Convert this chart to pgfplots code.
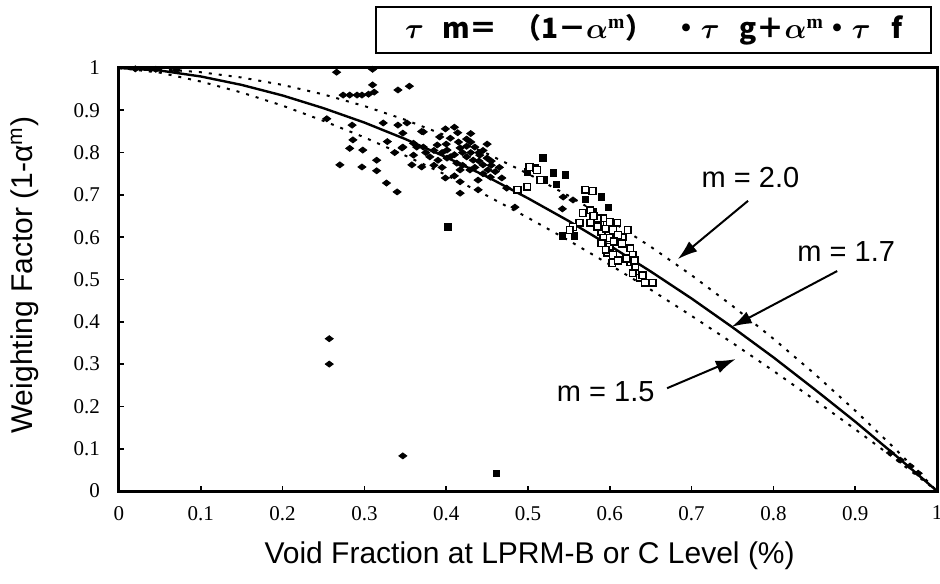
\documentclass[border=0pt]{standalone}
\usepackage{amsmath}
\usepackage{pgfplots}
\pgfplotsset{compat=1.18}
\usepackage{fontspec}
\setmainfont{Liberation Serif}
\newfontfamily\sans{Liberation Sans}
\newfontfamily\cjk{Noto Sans CJK JP}
\usetikzlibrary{arrows.meta}
\newcommand\formula{\mbox{$\boldsymbol{\tau}$\hspace{0.65em}m＝\hspace{0.55em}（1－$\boldsymbol{\alpha}^{\mathbf{m}}$）\hspace{0.7em}・$\boldsymbol{\tau}$\hspace{0.7em}g＋$\boldsymbol{\alpha}^{\mathbf{m}}$・$\boldsymbol{\tau}$\hspace{0.75em}f}}
\begin{document}
\begin{tikzpicture}
\begin{axis}[
  scale only axis, width=409pt, height=211.5pt,
  xmin=0, xmax=1, ymin=0, ymax=1,
  xtick={0,0.1,0.2,0.3,0.4,0.5,0.6,0.7,0.8,0.9,1},
  ytick={0,0.1,0.2,0.3,0.4,0.5,0.6,0.7,0.8,0.9,1},
  /pgf/number format/assume math mode=true,
  tick label style={font=\fontsize{10.5}{12}\selectfont},
  xticklabel style={yshift=-4pt},
  yticklabel style={xshift=-6pt},
  tick pos=left, tick align=inside, major tick length=2.5pt,
  tick style={line width=0.8pt, black},
  axis line style={line width=1.5pt},
  clip=false,
  every axis x label/.style={at={(axis description cs:0.502,-0.154)}, anchor=center},
  every axis y label/.style={at={(axis description cs:-0.115,0.51)}, anchor=center, rotate=90},
  label style={font=\sans\fontsize{15}{17}\selectfont},
  xlabel={Void Fraction at LPRM-B or C Level (\%)},
  ylabel={Weighting Factor (1-α\textsuperscript{m})},
]
% m = 2.0
\addplot[black, line width=1pt, dash pattern=on 1.5pt off 3.5pt] coordinates {
(0,1) (0.05,0.9975) (0.1,0.99) (0.15,0.9775) (0.2,0.96) (0.25,0.9375) (0.3,0.91)
(0.35,0.8775) (0.4,0.84) (0.45,0.7975) (0.5,0.75) (0.55,0.6975) (0.6,0.64)
(0.65,0.5775) (0.7,0.51) (0.75,0.4375) (0.8,0.36) (0.85,0.2775) (0.9,0.19)
(0.95,0.0975) (1,0)};
% m = 1.5
\addplot[black, line width=1pt, dash pattern=on 1.5pt off 3.5pt] coordinates {
(0,1) (0.05,0.989) (0.1,0.968) (0.15,0.942) (0.2,0.911) (0.25,0.875) (0.3,0.836)
(0.35,0.793) (0.4,0.747) (0.45,0.698) (0.5,0.646) (0.55,0.592) (0.6,0.535)
(0.65,0.476) (0.7,0.414) (0.75,0.350) (0.8,0.284) (0.85,0.216) (0.9,0.146)
(0.95,0.074) (1,0)};
% m = 1.7
\addplot[black, line width=1.2pt] coordinates {
(0,1) (0.05,0.994) (0.1,0.980) (0.15,0.960) (0.2,0.935) (0.25,0.905) (0.3,0.871)
(0.35,0.832) (0.4,0.789) (0.45,0.743) (0.5,0.692) (0.55,0.638) (0.6,0.580)
(0.65,0.519) (0.7,0.455) (0.75,0.387) (0.8,0.316) (0.85,0.241) (0.9,0.164)
(0.95,0.083) (1,0)};
% filled diamonds
\addplot[only marks, mark=diamond*, mark size=2pt, mark options={rotate=90, fill=black, draw=black}] coordinates {
(0.02,0.998) (0.045,0.997) (0.07,0.995)
(0.257,0.36) (0.257,0.30) (0.347,0.083)
(0.266,0.990) (0.310,0.997) (0.274,0.936) (0.282,0.936) (0.291,0.936) (0.297,0.936)
(0.305,0.938) (0.310,0.960) (0.312,0.943) (0.341,0.948) (0.355,0.957)
(0.254,0.880) (0.285,0.865) (0.323,0.870) (0.341,0.865) (0.352,0.870) (0.370,0.850)
(0.347,0.846) (0.286,0.830) (0.328,0.826) (0.282,0.810) (0.298,0.806) (0.347,0.813)
(0.364,0.813) (0.360,0.794) (0.337,0.800) (0.270,0.771) (0.297,0.766) (0.315,0.782)
(0.315,0.757) (0.327,0.728) (0.340,0.707)
(0.372,0.849) (0.399,0.856) (0.414,0.847) (0.425,0.832) (0.392,0.837) (0.405,0.834)
(0.346,0.811) (0.360,0.822) (0.372,0.813) (0.389,0.818) (0.401,0.806) (0.417,0.811)
(0.435,0.813) (0.441,0.794) (0.450,0.787) (0.445,0.771) (0.451,0.759) (0.433,0.782)
(0.425,0.790) (0.413,0.775) (0.401,0.787) (0.390,0.782) (0.417,0.759) (0.429,0.759)
(0.358,0.771) (0.370,0.766) (0.399,0.740) (0.417,0.731) (0.417,0.704) (0.439,0.735)
(0.439,0.712) (0.454,0.742) (0.468,0.740) (0.474,0.716) (0.484,0.671)
(0.395,0.800) (0.410,0.795) (0.420,0.800) (0.430,0.800) (0.440,0.780) (0.380,0.790)
(0.375,0.800) (0.385,0.770) (0.420,0.770) (0.435,0.765) (0.445,0.750) (0.455,0.770)
(0.460,0.755) (0.400,0.820) (0.415,0.825) (0.430,0.825) (0.440,0.800) (0.395,0.765)
(0.410,0.745) (0.410,0.860) (0.430,0.845) (0.450,0.820)
(0.405,0.790) (0.425,0.815) (0.445,0.805) (0.455,0.780) (0.465,0.765) (0.385,0.805)
(0.543,0.695) (0.542,0.667) (0.555,0.688)
(0.943,0.090) (0.955,0.073) (0.967,0.059) (0.977,0.042)
};
% filled squares
\addplot[only marks, mark=square*, mark size=1.6pt, mark options={fill=black, draw=black}] coordinates {
(0.461,0.042) (0.402,0.624) (0.518,0.787) (0.546,0.747) (0.531,0.752) (0.499,0.754)
(0.509,0.764) (0.590,0.695) (0.598,0.671) (0.542,0.603) (0.557,0.603)
(0.535,0.725) (0.570,0.690) (0.580,0.660) (0.520,0.735)
};
% open squares
\addplot[only marks, mark=square*, mark size=1.7pt, mark options={fill=white, draw=black, line width=0.8pt}] coordinates {
(0.502,0.766) (0.511,0.759) (0.515,0.735) (0.487,0.712) (0.499,0.719) (0.570,0.712)
(0.579,0.709) (0.576,0.664) (0.567,0.657) (0.563,0.634) (0.576,0.634) (0.588,0.634)
(0.600,0.636) (0.609,0.634) (0.592,0.645) (0.555,0.624) (0.551,0.617) (0.590,0.612)
(0.604,0.617) (0.622,0.617) (0.592,0.598) (0.600,0.598) (0.616,0.600) (0.590,0.586)
(0.600,0.577) (0.597,0.563) (0.604,0.558) (0.603,0.539) (0.625,0.574) (0.628,0.558)
(0.625,0.541) (0.631,0.530) (0.628,0.515) (0.637,0.504) (0.643,0.492) (0.652,0.492)
(0.585,0.625) (0.595,0.620) (0.610,0.605) (0.605,0.590) (0.595,0.570) (0.615,0.585)
(0.620,0.550) (0.610,0.545) (0.630,0.545) (0.640,0.510) (0.585,0.645) (0.580,0.650)
};
\coordinate (L20) at (axis cs:0.772,0.742);
\coordinate (L17) at (axis cs:0.889,0.565);
\coordinate (L15) at (axis cs:0.595,0.234);
\coordinate (A1s) at (axis cs:0.769,0.686);
\coordinate (A1e) at (axis cs:0.683,0.548);
\coordinate (A2s) at (axis cs:0.878,0.520);
\coordinate (A2e) at (axis cs:0.749,0.388);
\coordinate (A3s) at (axis cs:0.670,0.243);
\coordinate (A3e) at (axis cs:0.754,0.312);
\coordinate (TB) at (axis cs:0.654,1.090);
\end{axis}
\node[font=\sans\fontsize{14.5}{16}\selectfont] at (L20) {m = 2.0};
\node[font=\sans\fontsize{14.5}{16}\selectfont] at (L17) {m = 1.7};
\node[font=\sans\fontsize{14.5}{16}\selectfont] at (L15) {m = 1.5};
\draw[line width=1pt, -{Latex[length=10pt,width=6.5pt]}] (A1s) -- (A1e);
\draw[line width=1pt, -{Latex[length=10pt,width=6.5pt]}] (A2s) -- (A2e);
\draw[line width=1pt, -{Latex[length=10pt,width=6.5pt]}] (A3s) -- (A3e);
\node[draw, line width=1pt, minimum width=277.5pt, minimum height=23pt, inner sep=0pt, font=\cjk\bfseries\fontsize{14}{16}\selectfont] at (TB) {\formula};
\pgfresetboundingbox
\path ([shift={(-59.5pt,-46pt)}]current axis.south west) rectangle ([shift={(1.5pt,34pt)}]current axis.north east);
\end{tikzpicture}
\end{document}
